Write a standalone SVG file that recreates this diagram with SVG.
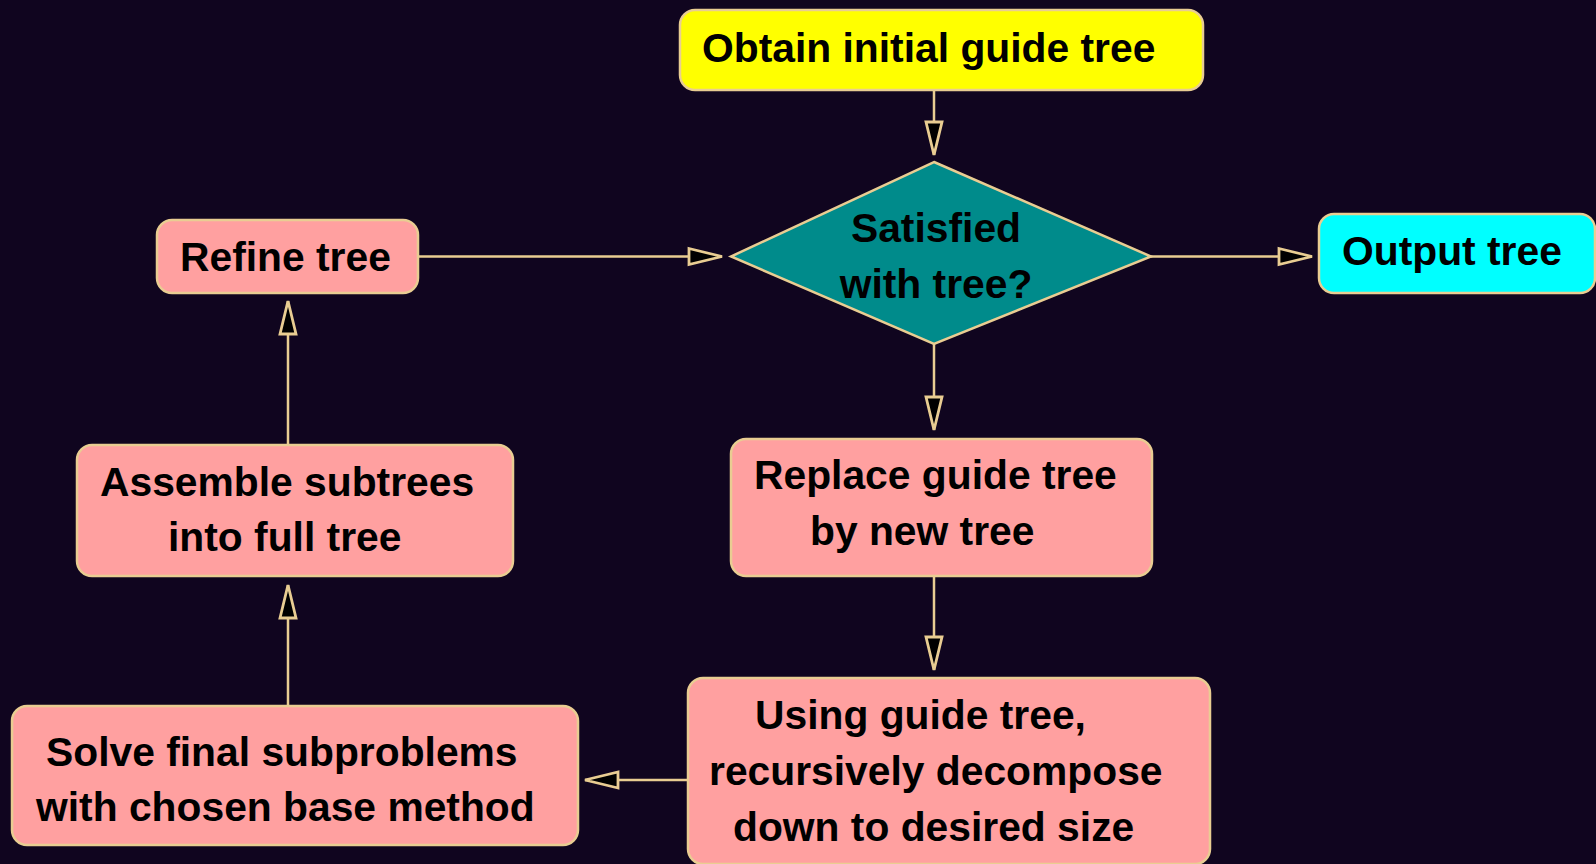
<svg xmlns="http://www.w3.org/2000/svg" width="1596" height="864" viewBox="0 0 1596 864">
<defs>
<style>
.box{stroke:#e9cd92;stroke-width:2.5}
.pink{fill:#ffa0a0}
.t{font-family:"Liberation Sans",Arial,Helvetica,sans-serif;font-weight:bold;font-size:40.8px;fill:#000}
.c{stroke:#e9cd92;stroke-width:2.5;fill:none}
</style>
<marker id="ah" markerUnits="userSpaceOnUse" markerWidth="38" markerHeight="22" refX="33" refY="8" orient="auto" viewBox="-2 -3 38 22">
<path d="M0,0 L33,8 L0,16 Z" fill="#000" stroke="#e9cd92" stroke-width="2.8" stroke-linejoin="miter"/>
</marker>
</defs>
<rect width="1596" height="864" fill="#10051f"/>
<g id="connectors">
<line class="c" x1="934" y1="90" x2="934" y2="155" marker-end="url(#ah)"/>
<line class="c" x1="418" y1="256.5" x2="722" y2="256.5" marker-end="url(#ah)"/>
<line class="c" x1="1151" y1="256.5" x2="1312" y2="256.5" marker-end="url(#ah)"/>
<line class="c" x1="934" y1="344" x2="934" y2="430" marker-end="url(#ah)"/>
<line class="c" x1="934" y1="576" x2="934" y2="670" marker-end="url(#ah)"/>
<line class="c" x1="688" y1="780" x2="585" y2="780" marker-end="url(#ah)"/>
<line class="c" x1="288" y1="706" x2="288" y2="585" marker-end="url(#ah)"/>
<line class="c" x1="288" y1="445" x2="288" y2="301" marker-end="url(#ah)"/>
</g>
<g id="obtain">
<rect class="box" x="680" y="10" width="523" height="80" rx="15" fill="#ffff00"/>
<text class="t" x="702" y="62">Obtain initial guide tree</text>
</g>
<g id="satisfied">
<polygon class="box" points="934,162 1151,256.5 934,344 731,256.5" fill="#008b8b"/>
<text class="t" x="936" y="242" text-anchor="middle">Satisfied</text>
<text class="t" x="936" y="298" text-anchor="middle">with tree?</text>
</g>
<g id="output">
<rect class="box" x="1319" y="214" width="276" height="79" rx="15" fill="#00ffff"/>
<text class="t" x="1342" y="265">Output tree</text>
</g>
<g id="refine">
<rect class="box pink" x="157" y="220" width="261" height="73" rx="15"/>
<text class="t" x="180" y="271">Refine tree</text>
</g>
<g id="replace">
<rect class="box pink" x="731" y="439" width="421" height="137" rx="15"/>
<text class="t" x="754" y="489">Replace guide tree</text>
<text class="t" x="810" y="545">by new tree</text>
</g>
<g id="decompose">
<rect class="box pink" x="688" y="678" width="522" height="186" rx="15"/>
<text class="t" x="755" y="729">Using guide tree,</text>
<text class="t" x="709" y="785">recursively decompose</text>
<text class="t" x="733" y="841">down to desired size</text>
</g>
<g id="solve">
<rect class="box pink" x="12" y="706" width="566" height="139" rx="15"/>
<text class="t" x="46" y="766">Solve final subproblems</text>
<text class="t" x="36" y="821">with chosen base method</text>
</g>
<g id="assemble">
<rect class="box pink" x="77" y="445" width="436" height="131" rx="15"/>
<text class="t" x="100" y="496">Assemble subtrees</text>
<text class="t" x="168" y="551">into full tree</text>
</g>
</svg>
